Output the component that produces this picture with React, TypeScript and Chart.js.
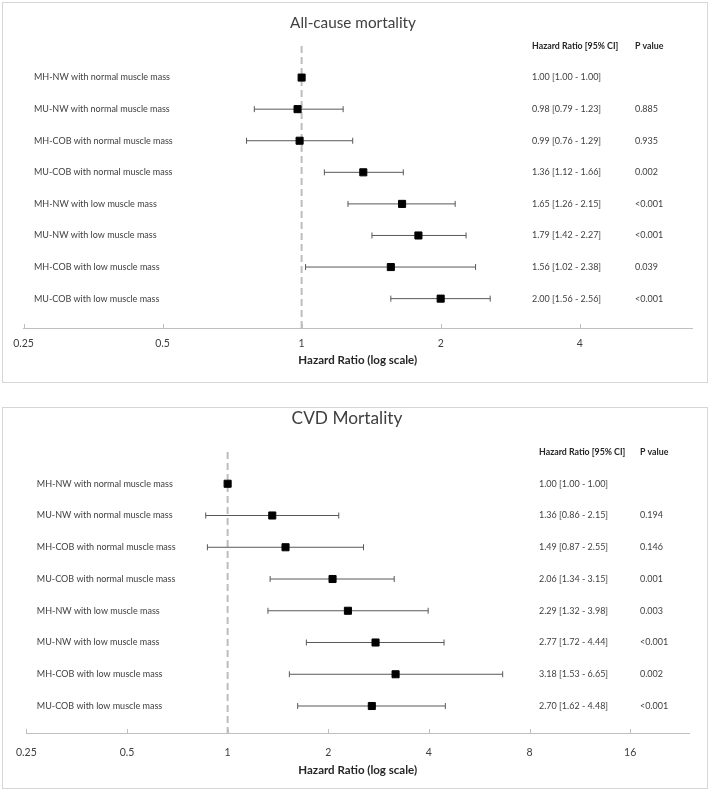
import React, { useEffect, useRef } from "react";
import { Chart, registerables } from "chart.js";

Chart.register(...registerables);

// ---------- data ----------
const rowLabels = [
  "MH-NW with normal muscle mass",
  "MU-NW with normal muscle mass",
  "MH-COB with normal muscle mass",
  "MU-COB with normal muscle mass",
  "MH-NW with low muscle mass",
  "MU-NW with low muscle mass",
  "MH-COB with low muscle mass",
  "MU-COB with low muscle mass",
];

const allCauseHR = [1.0, 0.98, 0.99, 1.36, 1.65, 1.79, 1.56, 2.0];
const allCauseLo = [1.0, 0.79, 0.76, 1.12, 1.26, 1.42, 1.02, 1.56];
const allCauseHi = [1.0, 1.23, 1.29, 1.66, 2.15, 2.27, 2.38, 2.56];
const allCauseP = ["", "0.885", "0.935", "0.002", "<0.001", "<0.001", "0.039", "<0.001"];

const cvdHR = [1.0, 1.36, 1.49, 2.06, 2.29, 2.77, 3.18, 2.7];
const cvdLo = [1.0, 0.86, 0.87, 1.34, 1.32, 1.72, 1.53, 1.62];
const cvdHi = [1.0, 2.15, 2.55, 3.15, 3.98, 4.44, 6.65, 4.48];
const cvdP = ["", "0.194", "0.146", "0.001", "0.003", "<0.001", "0.002", "<0.001"];

const allCauseTicks = [0.25, 0.5, 1, 2, 4];
const allCauseTickLabels = ["0.25", "0.5", "1", "2", "4"];
const cvdTicks = [0.25, 0.5, 1, 2, 4, 8, 16];
const cvdTickLabels = ["0.25", "0.5", "1", "2", "4", "8", "16"];

const headerHR = "Hazard Ratio [95% CI]";
const headerP = "P value";
const xAxisTitle = "Hazard Ratio (log scale)";

// ---------- styling ----------
const FONT = "Lato, 'Open Sans', sans-serif";
const TEXT = "#404040";
const DARK = "#262626";
const AXIS = "#bfbfbf";

type Layout = {
  width: number;
  height: number;
  left: number;
  right: number;
  top: number;
  xAxisHeight: number;
  tickPad: number;
  axisTitlePadBottom: number;
  labelPad: number;
  yMax: number;
  xMax: number;
  titleX: number;
  titleY: number;
  titleSize: number;
  colHR: number;
  colP: number;
};

const forestExtras = {
  id: "forestExtras",
  afterDraw(chart: any, _args: any, opts: any) {
    const { ctx, chartArea } = chart;
    const x = chart.scales.x;
    const y = chart.scales.y;
    ctx.save();
    // upward tick marks on the x axis
    ctx.strokeStyle = AXIS;
    ctx.lineWidth = 1;
    x.ticks.forEach((t: any) => {
      const px = Math.round(x.getPixelForValue(t.value)) + 0.5;
      ctx.beginPath();
      ctx.moveTo(px, chartArea.bottom);
      ctx.lineTo(px, chartArea.bottom - 4);
      ctx.stroke();
    });
    // title
    ctx.fillStyle = TEXT;
    ctx.textAlign = "center";
    ctx.textBaseline = "middle";
    ctx.font = `${opts.titleSize}px ${FONT}`;
    ctx.fillText(opts.title, opts.titleX, opts.titleY);
    // table headers
    ctx.textAlign = "left";
    ctx.fillStyle = DARK;
    ctx.font = `bold 8.8px ${FONT}`;
    const hy = y.getPixelForValue(-1);
    ctx.fillText(headerHR, opts.colHR, hy);
    ctx.fillText(headerP, opts.colP, hy);
    // table rows
    ctx.fillStyle = TEXT;
    ctx.font = `9px ${FONT}`;
    const { hr, lo, hi, p } = opts;
    for (let i = 0; i < hr.length; i++) {
      const py = y.getPixelForValue(i);
      const txt = `${hr[i].toFixed(2)} [${lo[i].toFixed(2)} - ${hi[i].toFixed(2)}]`;
      ctx.fillText(txt, opts.colHR, py);
      if (p[i]) ctx.fillText(p[i], opts.colP, py);
    }
    ctx.restore();
  },
};

type PanelProps = {
  title: string;
  hr: number[];
  lo: number[];
  hi: number[];
  p: string[];
  ticks: number[];
  tickLabels: string[];
  L: Layout;
};

function ForestPanel({ title, hr, lo, hi, p, ticks, tickLabels, L }: PanelProps) {
  const ref = useRef<HTMLCanvasElement | null>(null);

  useEffect(() => {
    if (!ref.current) return;
    const datasets: any[] = [];
    // point estimates
    datasets.push({
      type: "scatter",
      data: hr.map((v, i) => ({ x: v, y: i })),
      pointStyle: "rect",
      pointRadius: 5,
      pointBackgroundColor: "#000",
      pointBorderColor: "#000",
      pointBorderWidth: 1,
      order: 0,
    });
    // confidence intervals
    hr.forEach((_, i) => {
      datasets.push({
        type: "line",
        data: [
          { x: lo[i], y: i },
          { x: hi[i], y: i },
        ],
        borderColor: "#595959",
        borderWidth: 1,
        pointStyle: "line",
        pointRotation: 90,
        pointRadius: lo[i] === hi[i] ? 0 : 3,
        pointBorderColor: "#595959",
        pointBorderWidth: 1,
        fill: false,
        order: 1,
      });
    });
    // reference line at HR = 1
    datasets.push({
      type: "line",
      data: [
        { x: 1, y: -1 },
        { x: 1, y: L.yMax },
      ],
      borderColor: "#bdbdbd",
      borderWidth: 2,
      borderDash: [7, 4],
      pointRadius: 0,
      fill: false,
      order: 2,
    });

    const chart = new Chart(ref.current, {
      type: "scatter",
      data: { datasets },
      options: {
        animation: false,
        responsive: false,
        events: [],
        layout: { padding: { left: L.left, right: L.right, top: L.top, bottom: 0 } },
        plugins: {
          legend: { display: false },
          tooltip: { enabled: false },
          title: { display: false },
          forestExtras: {
            title,
            titleX: L.titleX,
            titleY: L.titleY,
            titleSize: L.titleSize,
            colHR: L.colHR,
            colP: L.colP,
            hr,
            lo,
            hi,
            p,
          },
        } as any,
        scales: {
          x: {
            type: "logarithmic",
            position: "bottom",
            min: 0.25,
            max: L.xMax,
            afterBuildTicks: (s: any) => {
              s.ticks = ticks.map((v) => ({ value: v }));
            },
            afterFit: (s: any) => {
              s.height = L.xAxisHeight;
            },
            grid: { display: true, drawOnChartArea: false, drawTicks: false },
            border: { display: true, color: AXIS, width: 1 },
            ticks: {
              autoSkip: false,
              maxRotation: 0,
              padding: L.tickPad,
              color: TEXT,
              font: { family: FONT, size: 10.5 },
              callback: (_v: any, i: number) => tickLabels[i],
            },
            title: {
              display: true,
              text: xAxisTitle,
              color: DARK,
              font: { family: FONT, size: 11.5, weight: "bold" },
              padding: { top: 0, bottom: L.axisTitlePadBottom },
            },
          },
          y: {
            type: "linear",
            reverse: true,
            min: -1,
            max: L.yMax,
            afterBuildTicks: (s: any) => {
              s.ticks = rowLabels.map((_, i) => ({ value: i }));
            },
            afterFit: (s: any) => {
              s.width = 0;
            },
            grid: { display: false },
            border: { display: false },
            ticks: {
              mirror: true,
              autoSkip: false,
              padding: L.labelPad,
              color: TEXT,
              font: { family: FONT, size: 9 },
              callback: (v: any) => rowLabels[v] ?? "",
            },
          },
        } as any,
      },
      plugins: [forestExtras],
    } as any);
    return () => chart.destroy();
  }, []);

  return (
    <canvas
      ref={ref}
      width={L.width}
      height={L.height}
      style={{ display: "block", width: L.width, height: L.height }}
    />
  );
}

const layoutAll: Layout = {
  width: 704,
  height: 379,
  left: 20.5,
  right: 15,
  top: 43,
  xAxisHeight: 54,
  tickPad: 9,
  axisTitlePadBottom: 15,
  labelPad: 10.5,
  yMax: 7.93,
  xMax: 7,
  titleX: 350,
  titleY: 20,
  titleSize: 15.3,
  colHR: 529,
  colP: 632,
};

const layoutCvd: Layout = {
  width: 704,
  height: 380,
  left: 20.5,
  right: 18,
  top: 44,
  xAxisHeight: 55,
  tickPad: 13,
  axisTitlePadBottom: 11,
  labelPad: 10.5,
  yMax: 7.85,
  xMax: 24,
  titleX: 344,
  titleY: 10,
  titleSize: 17.3,
  colHR: 536,
  colP: 637,
};

export default function App() {
  return (
    <div style={{ position: "absolute", left: 0, top: 0, width: 709, height: 792, background: "#fff" }}>
      <div
        style={{
          position: "absolute",
          left: 2,
          top: 2,
          width: 706,
          height: 381,
          border: "1px solid #d6d6d6",
          boxSizing: "border-box",
        }}
      >
        <ForestPanel
          title="All-cause mortality"
          hr={allCauseHR}
          lo={allCauseLo}
          hi={allCauseHi}
          p={allCauseP}
          ticks={allCauseTicks}
          tickLabels={allCauseTickLabels}
          L={layoutAll}
        />
      </div>
      <div
        style={{
          position: "absolute",
          left: 2,
          top: 407,
          width: 706,
          height: 382,
          border: "1px solid #d6d6d6",
          boxSizing: "border-box",
        }}
      >
        <ForestPanel
          title="CVD Mortality"
          hr={cvdHR}
          lo={cvdLo}
          hi={cvdHi}
          p={cvdP}
          ticks={cvdTicks}
          tickLabels={cvdTickLabels}
          L={layoutCvd}
        />
      </div>
    </div>
  );
}
